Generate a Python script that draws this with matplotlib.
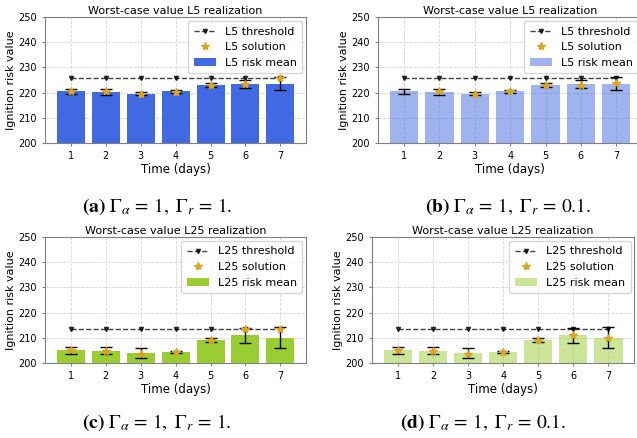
import numpy as np
import matplotlib
matplotlib.use("Agg")
import matplotlib.pyplot as plt

plt.rcParams['mathtext.fontset'] = 'stix'

days = [1, 2, 3, 4, 5, 6, 7]

# L5 level
l5_mean = [220.5, 220.2, 219.5, 220.4, 222.8, 223.2, 223.5]
l5_low = [219.6, 218.9, 219.0, 220.0, 222.0, 221.7, 220.9]
l5_high = [221.5, 221.3, 220.2, 220.8, 223.6, 224.9, 226.2]
l5_threshold = [225.7, 225.7, 225.7, 225.7, 225.7, 225.7, 225.7]
l5_sol_a = [220.7, 220.4, 219.5, 220.3, 222.9, 223.3, 225.7]
l5_sol_b = [np.nan, 220.4, 219.5, 220.4, 222.9, 223.1, 223.6]

# L25 level
l25_mean = [205.0, 204.8, 204.0, 204.3, 209.2, 211.0, 210.0]
l25_low = [203.5, 203.5, 202.0, 204.0, 208.5, 208.0, 205.8]
l25_high = [206.2, 206.2, 205.8, 204.7, 210.0, 214.0, 214.3]
l25_threshold = [213.5, 213.5, 213.5, 213.5, 213.5, 213.5, 213.5]
l25_sol_c = [205.0, 204.8, 203.8, 204.4, 209.3, 213.5, 213.5]
l25_sol_d = [205.0, 204.8, 203.8, 204.4, 209.3, 211.0, 210.0]

captions = [r"$\mathbf{(a)}\ \Gamma_{\alpha}\,=\,1,\ \Gamma_{r}\,=\,1.$",
            r"$\mathbf{(b)}\ \Gamma_{\alpha}\,=\,1,\ \Gamma_{r}\,=\,0.1.$",
            r"$\mathbf{(c)}\ \Gamma_{\alpha}\,=\,1,\ \Gamma_{r}\,=\,1.$",
            r"$\mathbf{(d)}\ \Gamma_{\alpha}\,=\,1,\ \Gamma_{r}\,=\,0.1.$"]

fig = plt.figure(figsize=(6.37, 4.38), dpi=100)

panels = [
    # rect, label, mean, low, high, threshold, solution, colour, alpha
    ([0.0707, 0.674, 0.410, 0.287], "L5", l5_mean, l5_low, l5_high, l5_threshold, l5_sol_a, "royalblue", 1.0),
    ([0.5934, 0.674, 0.415, 0.287], "L5", l5_mean, l5_low, l5_high, l5_threshold, l5_sol_b, "royalblue", 0.5),
    ([0.0707, 0.171, 0.410, 0.288], "L25", l25_mean, l25_low, l25_high, l25_threshold, l25_sol_c, "yellowgreen", 1.0),
    ([0.5840, 0.171, 0.412, 0.288], "L25", l25_mean, l25_low, l25_high, l25_threshold, l25_sol_d, "yellowgreen", 0.5),
]

for rect, lvl, mean, low, high, thr, sol, col, al in panels:
    ax = fig.add_axes(rect)
    mean = np.array(mean)
    yerr = [mean - np.array(low), np.array(high) - mean]
    ax.plot(days, thr, 'v--', color='k', alpha=0.75, lw=1, markersize=3, label=f"{lvl} threshold", zorder=4)
    ax.plot(days, sol, '*', color='goldenrod', markersize=6, linestyle='none', label=f"{lvl} solution", zorder=5)
    ax.bar(days, mean, yerr=yerr, color=col, alpha=al, capsize=4,
           error_kw=dict(ecolor='k', elinewidth=1, capthick=1), label=f"{lvl} risk mean", zorder=3)
    ax.set_ylim(200, 250)
    ax.set_xticks(days)
    ax.tick_params(labelsize=7, length=2.5, color='gray')
    ax.grid(True, linestyle='--', color='lightgray', lw=0.6, zorder=0)
    ax.set_axisbelow(True)
    for s in ax.spines.values():
        s.set_color('gray')
    ax.set_title(f"Worst-case value {lvl} realization", fontsize=8, pad=2)
    ax.set_xlabel("Time (days)", fontsize=8.5, labelpad=1)
    ax.set_ylabel("Ignition risk value", fontsize=8, labelpad=1.5)
    ax.legend(loc='upper right', fontsize=8, handlelength=2, borderpad=0.5,
              labelspacing=0.5, borderaxespad=0.35)

fig.text(0.246, 0.527, captions[0], fontsize=14, ha='center', va='center')
fig.text(0.797, 0.527, captions[1], fontsize=14, ha='center', va='center')
fig.text(0.246, 0.034, captions[2], fontsize=14, ha='center', va='center')
fig.text(0.758, 0.034, captions[3], fontsize=14, ha='center', va='center')

fig.savefig("out.png", dpi=100)
